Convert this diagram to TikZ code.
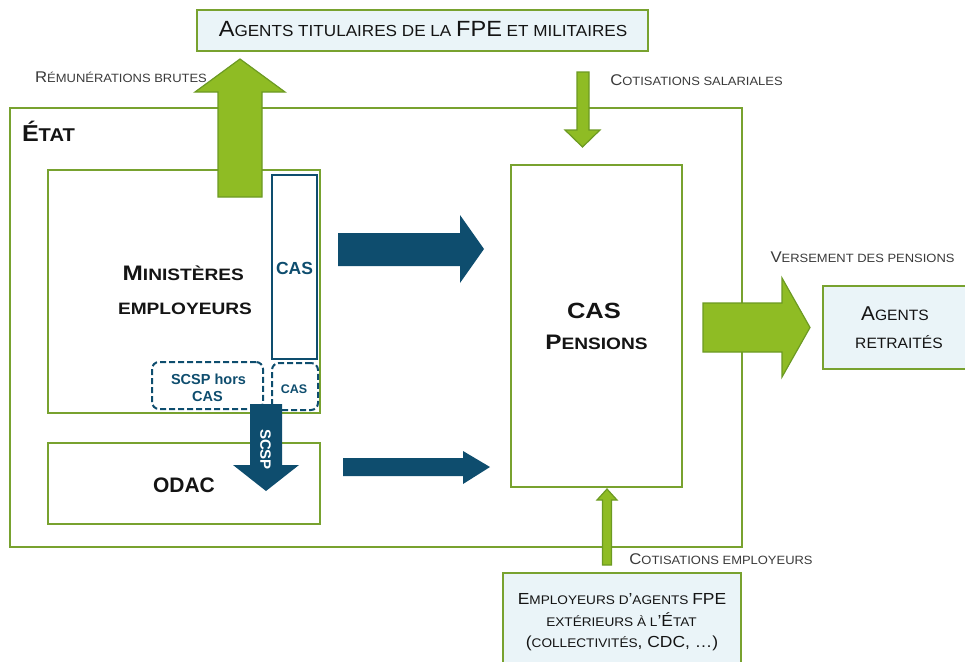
\documentclass[tikz,border=0pt]{standalone}
\usepackage{fontspec}
\setmainfont{Liberation Sans}
\usepackage{graphicx}
\definecolor{gbord}{HTML}{78A22F}
\definecolor{gfill}{HTML}{8FBC24}
\definecolor{gedge}{HTML}{6C9A22}
\definecolor{dblue}{HTML}{0E4D6E}
\definecolor{lblue}{HTML}{EAF4F8}
\definecolor{lbltxt}{HTML}{3A3A3A}
\definecolor{maintxt}{HTML}{141414}
\newcommand\hs[2]{\scalebox{#1}[1]{#2}}
\newcommand\B[2]{{\fontsize{#1}{#1}\selectfont #2}}
\tikzset{
  gbox/.style={draw=gbord, line width=2.6pt, inner sep=0pt, outer sep=0pt},
  gboxf/.style={gbox, fill=lblue},
  bbox/.style={draw=dblue, line width=2.2pt, inner sep=0pt, outer sep=0pt},
  dbox/.style={draw=dblue, line width=2pt, dash pattern=on 6pt off 3pt, rounded corners=7pt, inner sep=0pt, outer sep=0pt},
  garrow/.style={fill=gfill, draw=gedge, line width=1.2pt, line join=miter},
  barrow/.style={fill=dblue},
  txt/.style={inner sep=0pt, outer sep=0pt, anchor=base, text=maintxt},
  lbl/.style={txt, text=lbltxt, font=\fontsize{12}{12}\selectfont},
}
\begin{document}
\begin{tikzpicture}[x=1pt,y=-1pt]
\useasboundingbox (0,0) rectangle (965,661);
\clip (0,0) rectangle (965,661);

% boxes
\node[gbox, minimum width=732pt, minimum height=439pt] (etat) at (376,327.5) {};
\node[gboxf, minimum width=451pt, minimum height=41pt] (top) at (422.5,30.5) {};
\node[gbox, minimum width=272pt, minimum height=243pt] (min) at (184,291.5) {};
\node[gbox, minimum width=272pt, minimum height=81pt] (odac) at (184,483.5) {};
\node[gbox, minimum width=171pt, minimum height=322pt] (casp) at (596.5,326) {};
\node[gboxf, minimum width=152pt, minimum height=83pt] (retr) at (899,327.5) {};
\node[gboxf, minimum width=238pt, minimum height=102pt] (empl) at (622,624) {};
\node[bbox, minimum width=45pt, minimum height=184pt] (cas1) at (294.5,267) {};
\node[dbox, minimum width=46pt, minimum height=47pt] (cas2) at (295,386.5) {};
\node[dbox, minimum width=111pt, minimum height=47pt] (scsp) at (207.5,385.5) {};

% green arrows
\fill[garrow] (218,197) -- (218,92) -- (195,92) -- (240,59) -- (285,92) -- (262,92) -- (262,197) -- cycle;
\fill[garrow] (577,72) -- (589,72) -- (589,130) -- (600,130) -- (582.5,147) -- (565,130) -- (577,130) -- cycle;
\fill[garrow] (703,303) -- (782,303) -- (782,278) -- (810,327.5) -- (782,377) -- (782,352) -- (703,352) -- cycle;
\fill[garrow] (602.5,565) -- (602.5,500) -- (597,500) -- (607,489) -- (617,500) -- (611.5,500) -- (611.5,565) -- cycle;

% blue arrows
\fill[barrow] (338,233) -- (460,233) -- (460,215) -- (484,249) -- (460,283) -- (460,266) -- (338,266) -- cycle;
\fill[barrow] (343,458) -- (463,458) -- (463,451) -- (490,467) -- (463,484) -- (463,476) -- (343,476) -- cycle;
\fill[barrow] (250,404) -- (282,404) -- (282,465) -- (299,465) -- (266,491) -- (233,465) -- (250,465) -- cycle;

% texts
\node[txt, font=\fontsize{16}{16}\selectfont] (ttop) at (423,37) {\hs{1.07}{\B{22}{A}GENTS TITULAIRES DE LA \B{22}{FPE} ET MILITAIRES}};
\node[lbl] (lrem) at (121,82.7) {\hs{1.08}{\B{15.5}{R}ÉMUNÉRATIONS BRUTES}};
\node[lbl] (lsal) at (696.5,85) {\hs{1.08}{\B{15.5}{C}OTISATIONS SALARIALES}};
\node[lbl] (lver) at (862.5,262) {\hs{1.08}{\B{15.5}{V}ERSEMENT DES PENSIONS}};
\node[lbl] (lemp) at (721,564) {\hs{1.08}{\B{15.5}{C}OTISATIONS EMPLOYEURS}};
\node[txt, anchor=base west, font=\bfseries\fontsize{18.5}{18.5}\selectfont] (tetat) at (22,141.5) {\hs{1.09}{\B{23}{É}TAT}};
\node[txt, font=\bfseries\fontsize{16.5}{16.5}\selectfont] (tmin1) at (183.3,280) {\hs{1.16}{\B{21}{M}INISTÈRES}};
\node[txt, font=\bfseries\fontsize{16.5}{16.5}\selectfont] (tmin2) at (185,314) {\hs{1.16}{EMPLOYEURS}};
\node[txt, text=dblue, font=\bfseries\fontsize{17.5}{17.5}\selectfont] (tcas1) at (294.5,274.3) {CAS};
\node[txt, text=dblue, font=\bfseries\fontsize{12.5}{12.5}\selectfont] (tcas2) at (294,393.3) {CAS};
\node[txt, text=dblue, font=\bfseries\fontsize{14.5}{14.5}\selectfont] (tscsp1) at (208.5,384) {SCSP hors};
\node[txt, text=dblue, font=\bfseries\fontsize{14.5}{14.5}\selectfont] (tscsp2) at (207.5,401) {CAS};
\node[inner sep=0pt, text=white, rotate=-90, font=\bfseries\fontsize{15}{15}\selectfont] (tscsp) at (265.5,449.5) {SCSP};
\node[txt, font=\bfseries\fontsize{21}{21}\selectfont] (todac) at (184,492.7) {ODAC};
\node[txt, font=\bfseries\fontsize{16.5}{16.5}\selectfont] (tcp1) at (594,318) {\hs{1.16}{\B{22}{CAS}}};
\node[txt, font=\bfseries\fontsize{16.5}{16.5}\selectfont] (tcp2) at (596.5,349) {\hs{1.16}{\B{21}{P}ENSIONS}};
\node[txt, font=\fontsize{15}{15}\selectfont] (tret1) at (895,320) {\hs{1.04}{\B{20}{A}GENTS}};
\node[txt, font=\fontsize{15}{15}\selectfont] (tret2) at (899,348.3) {\hs{1.04}{RETRAITÉS}};
\node[txt, font=\fontsize{12.5}{12.5}\selectfont] (tem1) at (622,604) {\hs{1.09}{\B{16}{E}MPLOYEURS D\B{16}{’}AGENTS \B{16}{FPE}}};
\node[txt, font=\fontsize{12.5}{12.5}\selectfont] (tem2) at (621.5,626) {\hs{1.09}{EXTÉRIEURS À L\B{16}{’É}TAT}};
\node[txt, font=\fontsize{12.5}{12.5}\selectfont] (tem3) at (622,647) {\hs{1.09}{\B{16}{(}COLLECTIVITÉS\B{16}{, CDC, …)}}};
\end{tikzpicture}
\end{document}
